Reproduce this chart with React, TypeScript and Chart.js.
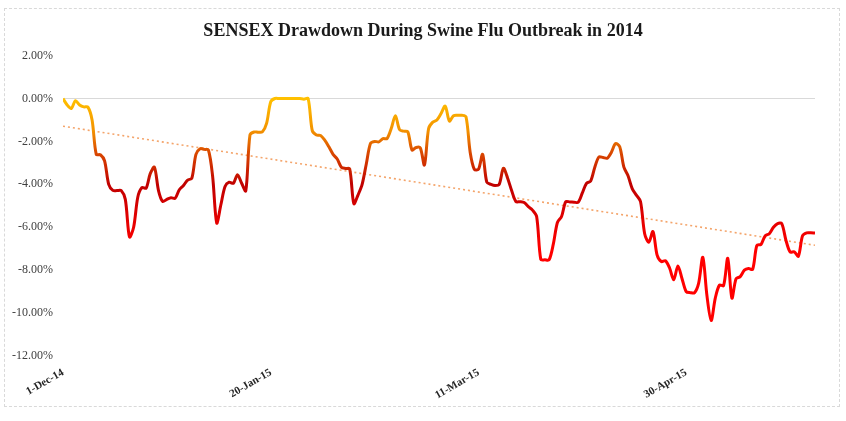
import React, { useEffect, useRef } from "react";
import { Chart, registerables } from "chart.js";

Chart.register(...registerables);

const TITLE = "SENSEX Drawdown During Swine Flu Outbreak in 2014";
const TICK_LABELS = ["1-Dec-14", "20-Jan-15", "11-Mar-15", "30-Apr-15"];
const TICK_STEP = 50;

// Daily drawdown (%) from 1-Dec-14, one value per calendar day
const DRAWDOWN = [
  0, -0.3, -0.47, -0.1, -0.3, -0.39, -0.4, -1.0, -2.6, -2.62,
  -2.9, -4.0, -4.28, -4.29, -4.29, -4.7, -6.45, -6.0, -4.6, -4.15,
  -4.18, -3.5, -3.2, -4.3, -4.8, -4.7, -4.62, -4.65, -4.25, -4.05,
  -3.8, -3.72, -2.6, -2.34, -2.37, -2.4, -3.6, -5.8, -4.95, -4.1,
  -3.9, -3.95, -3.55, -3.95, -4.3, -1.7, -1.56, -1.57, -1.55, -1.16,
  -0.15, 0, 0, 0, 0, 0, 0, 0, -0.03, 0,
  -1.5, -1.7, -1.72, -1.94, -2.25, -2.6, -2.82, -3.2, -3.26, -3.28,
  -4.9, -4.5, -4.0, -3.05, -2.1, -2.0, -2.02, -1.87, -1.86, -1.4,
  -0.8, -1.45, -1.52, -1.55, -2.4, -2.28, -2.3, -3.1, -1.4, -1.1,
  -1.0, -0.7, -0.35, -1.05, -0.8, -0.78, -0.78, -0.85, -2.5, -3.3,
  -3.3, -2.6, -3.9, -4.0, -4.05, -4.0, -3.25, -3.7, -4.3, -4.8,
  -4.81, -4.85, -5.04, -5.2, -5.5, -7.5, -7.52, -7.52, -6.8, -5.78,
  -5.5, -4.81, -4.82, -4.83, -4.84, -4.4, -3.95, -3.85, -3.2, -2.72,
  -2.75, -2.78, -2.5, -2.1, -2.25, -3.2, -3.6, -4.2, -4.5, -4.8,
  -6.3, -6.7, -6.2, -7.3, -7.6, -7.56, -7.9, -8.45, -7.8, -8.4,
  -9.0, -9.05, -9.05, -8.6, -7.4, -9.2, -10.35, -9.3, -8.7, -8.72,
  -7.45, -9.3, -8.4, -8.3, -8.0, -7.92, -7.96, -6.85, -6.8, -6.4,
  -6.3, -6.0, -5.83, -5.83, -6.6, -7.15, -7.15, -7.35, -6.4, -6.26,
  -6.26, -6.27,
];

const TREND_START = -1.29;
const TREND_END = -6.84;

const Y_MIN = -12;
const Y_MAX = 2;
const Y_STEP = 2;

// gradient stops: [value %, colour]
const GRADIENT_STOPS: [number, string][] = [
  [0, "#FFC000"],
  [-1.5, "#F39200"],
  [-2.5, "#DA4A00"],
  [-4, "#C00000"],
  [-5.5, "#E00000"],
  [-7, "#FF0000"],
];

function lineGradient(chart: any) {
  const area = chart.chartArea;
  const y = chart.scales?.y;
  if (!area || !y) return "#FF0000";
  const top = y.getPixelForValue(GRADIENT_STOPS[0][0]);
  const bottom = y.getPixelForValue(GRADIENT_STOPS[GRADIENT_STOPS.length - 1][0]);
  const g = chart.ctx.createLinearGradient(0, top, 0, bottom);
  for (const [v, c] of GRADIENT_STOPS) {
    const p = (y.getPixelForValue(v) - top) / (bottom - top);
    g.addColorStop(Math.min(1, Math.max(0, p)), c);
  }
  return g;
}

export default function App() {
  const ref = useRef<HTMLCanvasElement>(null);

  useEffect(() => {
    const last = DRAWDOWN.length - 1;
    const chart = new Chart(ref.current!, {
      type: "line",
      data: {
        datasets: [
          {
            label: "Drawdown",
            data: DRAWDOWN.map((v, i) => ({ x: i, y: v })),
            borderColor: (c: any) => lineGradient(c.chart),
            borderWidth: 3,
            pointRadius: 0,
            tension: 0.3,
            fill: false,
          },
          {
            label: "Trend",
            data: [
              { x: 0, y: TREND_START },
              { x: last, y: TREND_END },
            ],
            borderColor: "#F4A46A",
            borderWidth: 1.6,
            borderDash: [2, 3],
            pointRadius: 0,
            fill: false,
          },
        ],
      },
      options: {
        animation: false,
        responsive: false,
        maintainAspectRatio: false,
        layout: { padding: { left: 0, right: 0, top: 0, bottom: 0 } },
        plugins: {
          legend: { display: false },
          tooltip: { enabled: false },
          title: {
            display: true,
            text: TITLE,
            color: "#1A1A1A",
            font: { family: "'Liberation Serif', serif", size: 18, weight: "bold" },
            padding: { top: 21, bottom: 13 },
          },
        },
        scales: {
          x: {
            type: "linear",
            min: 0,
            max: last,
            grid: { display: false, drawTicks: false },
            border: { display: false },
            ticks: {
              stepSize: TICK_STEP,
              includeBounds: false,
              autoSkip: false,
              minRotation: 30,
              maxRotation: 30,
              padding: 10,
              color: "#262626",
              font: { family: "'Liberation Serif', serif", size: 11, weight: "bold" },
              callback: (v: any) => {
                const idx = Number(v) / TICK_STEP;
                return Number.isInteger(idx) ? TICK_LABELS[idx] ?? "" : "";
              },
            },
            afterFit: (s: any) => {
              s.height = 65;
            },
          },
          y: {
            min: Y_MIN,
            max: Y_MAX,
            grid: {
              drawTicks: false,
              color: (c: any) => (c.tick && c.tick.value === 0 ? "#D9D9D9" : "rgba(0,0,0,0)"),
              lineWidth: 1,
            },
            border: { display: false },
            ticks: {
              stepSize: Y_STEP,
              padding: 10,
              color: "#404040",
              font: { family: "'Liberation Serif', serif", size: 12 },
              callback: (v: any) => Number(v).toFixed(2) + "%",
            },
            afterFit: (s: any) => {
              s.width = 63;
            },
          },
          yRight: {
            position: "right",
            display: true,
            grid: { display: false, drawTicks: false },
            border: { display: false },
            ticks: { display: false },
            afterFit: (s: any) => {
              s.width = 31;
            },
          },
        },
      },
    } as any);
    return () => chart.destroy();
  }, []);

  return (
    <div style={{ position: "absolute", left: 0, top: 0, width: 846, height: 421, background: "#FFFFFF" }}>
      <div
        style={{
          position: "absolute",
          left: 4,
          top: 8,
          width: 836,
          height: 399,
          boxSizing: "border-box",
          border: "1px dashed #D9D9D9",
        }}
      />
      <canvas
        ref={ref}
        width={846}
        height={421}
        style={{ position: "absolute", left: 0, top: 0, width: 846, height: 421 }}
      />
    </div>
  );
}
